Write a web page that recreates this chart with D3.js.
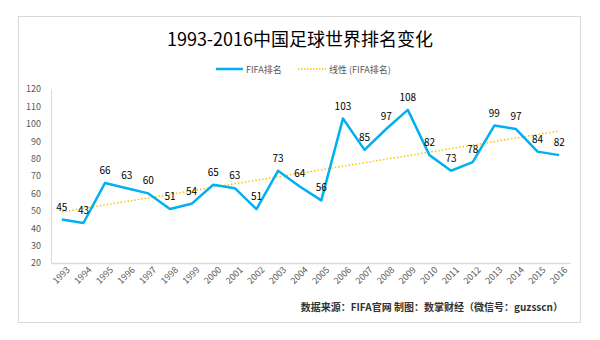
<!DOCTYPE html>
<html>
<head>
<meta charset="utf-8">
<script src="https://cdn.jsdelivr.net/npm/d3@7"></script>
<style>
  body { margin: 0; background: #fff; }
  svg text { font-family: "Noto Sans CJK SC", "Open Sans", sans-serif; }
</style>
</head>
<body>
<div id="chart"></div>
<script>
// ---- Data
const years = ['1993', '1994', '1995', '1996', '1997', '1998', '1999', '2000', '2001', '2002', '2003', '2004',
               '2005', '2006', '2007', '2008', '2009', '2010', '2011', '2012', '2013', '2014', '2015', '2016'];
const ranks = [45, 43, 66, 63, 60, 51, 54, 65, 63, 51, 73, 64, 56, 103, 85, 97, 108, 82, 73, 78, 99, 97, 84, 82];
const yTicks = [20, 30, 40, 50, 60, 70, 80, 90, 100, 110, 120];

const titleText = '1993-2016中国足球世界排名变化';
const legendNames = ['FIFA排名', '线性 (FIFA排名)'];
const sourceText = '数据来源：FIFA官网  制图：数掌财经（微信号：guzsscn）';

const W = 600, H = 340;
const margin = { left: 51, right: 30, top: 89, bottom: 77 };
const plotW = W - margin.left - margin.right;
const plotH = H - margin.top - margin.bottom;

const svg = d3.select('#chart').append('svg').attr('width', W).attr('height', H);

// ---- Frame
svg.append('rect')
  .attr('x', 18.5).attr('y', 16.5).attr('width', 562).attr('height', 306)
  .attr('fill', '#fff').attr('stroke', '#d9d9d9');

// ---- Title
svg.append('text')
  .attr('x', 300).attr('y', 46)
  .attr('text-anchor', 'middle')
  .attr('font-size', 18).attr('fill', '#000')
  .text(titleText);

// ---- Legend
const lg = svg.append('g').attr('transform', 'translate(216, 69)');
lg.append('line').attr('x1', 0).attr('x2', 27).attr('y1', 0).attr('y2', 0)
  .attr('stroke', '#00b0f0').attr('stroke-width', 2.5);
lg.append('text').attr('x', 30).attr('y', 3.5).attr('font-size', 9).attr('fill', '#595959').text(legendNames[0]);
lg.append('line').attr('x1', 82).attr('x2', 110).attr('y1', 0).attr('y2', 0)
  .attr('stroke', '#ffc000').attr('stroke-width', 1.5).attr('stroke-dasharray', '1.5,1.5');
lg.append('text').attr('x', 113).attr('y', 3.5).attr('font-size', 9).attr('fill', '#595959').text(legendNames[1]);

// ---- Scales
const x = d3.scaleBand().domain(years).range([0, plotW]);
const y = d3.scaleLinear().domain([20, 120]).range([plotH, 0]);
const cx = d => x(d) + x.bandwidth() / 2;

const g = svg.append('g').attr('transform', `translate(${margin.left},${margin.top})`);

// ---- Axes
const yAxis = g.append('g').call(d3.axisLeft(y).tickValues(yTicks).tickSize(0).tickPadding(10));
yAxis.select('.domain').attr('stroke', '#d9d9d9');
yAxis.selectAll('text').attr('font-size', 9).attr('fill', '#595959');

const xAxis = g.append('g').attr('transform', `translate(0,${plotH})`)
  .call(d3.axisBottom(x).tickSize(0).tickPadding(7));
xAxis.select('.domain').attr('stroke', '#d9d9d9').attr('stroke-width', 1.5);
xAxis.selectAll('text')
  .attr('font-size', 9).attr('fill', '#595959')
  .style('text-anchor', 'end')
  .attr('dx', '0.1em').attr('dy', '0.5em')
  .attr('transform', 'rotate(-45)');

// ---- Linear trend (least squares over the series)
const n = ranks.length;
const idx = d3.range(n);
const mx = d3.mean(idx), my = d3.mean(ranks);
const slope = d3.sum(idx, i => (i - mx) * (ranks[i] - my)) / d3.sum(idx, i => (i - mx) ** 2);
const icpt = my - slope * mx;
g.append('line')
  .attr('x1', cx(years[0])).attr('y1', y(icpt))
  .attr('x2', cx(years[n - 1])).attr('y2', y(icpt + slope * (n - 1)))
  .attr('stroke', '#ffc000').attr('stroke-width', 1.5).attr('stroke-dasharray', '1.5,2');

// ---- Rank line
const line = d3.line().x((d, i) => cx(years[i])).y(d => y(d));
g.append('path').datum(ranks)
  .attr('d', line)
  .attr('fill', 'none').attr('stroke', '#00b0f0').attr('stroke-width', 2.5)
  .attr('stroke-linejoin', 'round');

// ---- Value labels
g.selectAll('.lbl').data(ranks).join('text')
  .attr('class', 'lbl')
  .attr('x', (d, i) => cx(years[i]))
  .attr('y', d => y(d) - 9)
  .attr('text-anchor', 'middle')
  .attr('font-size', 10).attr('fill', '#000')
  .text(d => d);

// ---- Source note
svg.append('text')
  .attr('x', 563).attr('y', 311)
  .attr('text-anchor', 'end')
  .attr('font-size', 10).attr('font-weight', 'bold').attr('fill', '#333')
  .text(sourceText);
</script>
</body>
</html>
